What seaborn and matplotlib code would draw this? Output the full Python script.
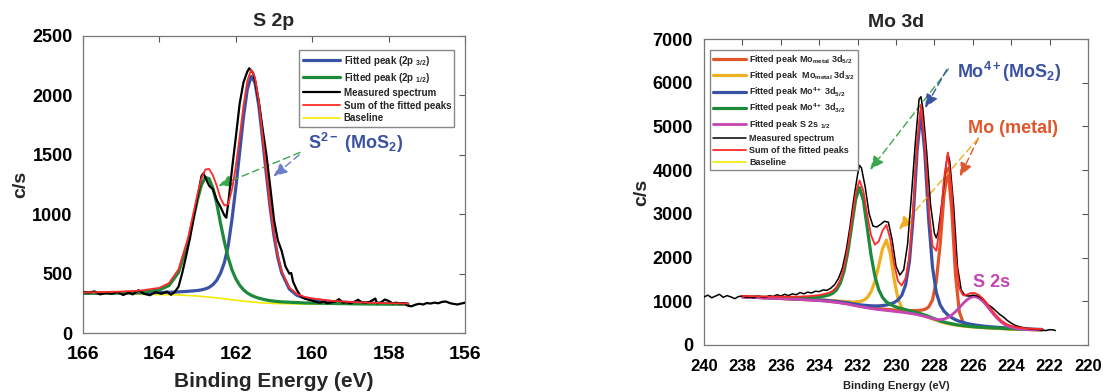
import numpy as np
import pandas as pd
import matplotlib
matplotlib.use("Agg")
import matplotlib.pyplot as plt
import seaborn as sns

# ---------------- S 2p ----------------
s2p_be = [166.0, 165.5, 165.0, 164.5, 164.0, 163.75, 163.5, 163.25, 163.0, 162.9,
          162.8, 162.7, 162.6, 162.5, 162.4, 162.3, 162.2, 162.1, 162.0, 161.9,
          161.8, 161.7, 161.6, 161.5, 161.4, 161.3, 161.2, 161.1, 161.0, 160.9,
          160.8, 160.6, 160.4, 160.2, 160.0, 159.5, 159.0, 158.5, 158.0, 157.5]
s2p_baseline = [330, 329, 328, 326, 324, 322, 320, 316, 311, 308,
                305, 302, 299, 296, 292, 288, 284, 280, 276, 272,
                268, 265, 262, 259, 256, 254, 252, 250, 249, 248,
                247, 246, 245, 244, 244, 243, 242, 241, 240, 240]
s2p_p32 = [5, 7, 9, 12, 17, 21, 26, 35, 47, 55,
           66, 82, 108, 148, 212, 305, 450, 680, 950, 1250,
           1550, 1785, 1898, 1850, 1660, 1380, 1080, 800, 565, 385,
           259, 124, 72, 51, 39, 22, 15, 11, 8, 6]
s2p_p12 = [6, 8, 12, 19, 39, 77, 190, 450, 817, 938,
           1005, 997, 920, 795, 630, 480, 350, 250, 180, 130,
           96, 72, 56, 45, 37, 31, 26, 22, 19, 17,
           15, 13, 11, 9, 8, 6, 4, 3, 3, 2]

s2p_meas_be = [166.0, 165.85, 165.7, 165.55, 165.4, 165.25, 165.1, 164.95, 164.8, 164.7,
               164.55, 164.4, 164.25, 164.1, 163.95, 163.8, 163.7, 163.6, 163.5, 163.4,
               163.3, 163.2, 163.1, 163.0, 162.9, 162.85, 162.8, 162.7, 162.6, 162.5,
               162.4, 162.3, 162.25, 162.2, 162.1, 162.0, 161.9, 161.8, 161.7, 161.65,
               161.55, 161.5, 161.4, 161.3, 161.2, 161.1, 161.0, 160.9, 160.8, 160.7,
               160.6, 160.55, 160.5, 160.4, 160.3, 160.2, 160.1, 160.0, 159.9, 159.8,
               159.7, 159.6, 159.5, 159.4, 159.3, 159.2, 159.1, 159.0, 158.9, 158.8,
               158.7, 158.6, 158.5, 158.4, 158.35, 158.3, 158.2, 158.1, 158.0, 157.9,
               157.8, 157.7, 157.6, 157.5, 157.4, 157.3, 157.2, 157.1, 157.0, 156.9,
               156.8, 156.7, 156.6, 156.5, 156.4, 156.3, 156.2, 156.1, 156.0]
s2p_meas = [345, 340, 350, 325, 338, 330, 345, 320, 340, 325,
            360, 330, 318, 345, 330, 348, 322, 345, 390, 510,
            650, 800, 980, 1150, 1320, 1344, 1310, 1240, 1210, 1120,
            1060, 990, 970, 1090, 1380, 1650, 1930, 2110, 2200, 2228,
            2190, 2130, 1950, 1720, 1500, 1230, 950, 780, 690, 560,
            500, 505, 430, 360, 310, 290, 280, 272, 262, 255,
            265, 250, 258, 265, 285, 255, 260, 250, 262, 280,
            258, 255, 262, 280, 290, 250, 258, 282, 270, 250,
            255, 248, 252, 230, 225, 238, 246, 240, 252, 248,
            256, 250, 262, 265, 252, 245, 240, 248, 255]

# ---------------- Mo 3d ----------------
mo_be = [238.0, 237.5, 237.0, 236.5, 236.0, 235.5, 235.0, 234.5, 234.1, 233.9,
         233.7, 233.5, 233.3, 233.1, 232.9, 232.7, 232.5, 232.3, 232.1, 231.9,
         231.7, 231.5, 231.3, 231.1, 230.9, 230.7, 230.5, 230.3, 230.1, 229.9,
         229.7, 229.5, 229.3, 229.1, 228.9, 228.7, 228.5, 228.3, 228.1, 227.9,
         227.7, 227.5, 227.3, 227.1, 226.9, 226.7, 226.5, 226.3, 226.1, 225.9,
         225.7, 225.5, 225.3, 225.1, 224.9, 224.7, 224.5, 224.3, 224.1, 223.7,
         223.3, 222.9, 222.4]
mo_baseline = [1100, 1090, 1080, 1070, 1060, 1050, 1040, 1028, 1018, 1012,
               1005, 995, 985, 975, 962, 948, 935, 915, 898, 880,
               865, 850, 836, 822, 810, 800, 790, 780, 770, 760,
               750, 740, 725, 712, 695, 675, 650, 622, 590, 560,
               530, 505, 485, 468, 452, 440, 430, 420, 413, 406,
               400, 395, 390, 386, 382, 378, 374, 370, 367, 361,
               356, 350, 345]
mo_metal_52 = [3, 3, 3, 3, 4, 4, 4, 5, 6, 6,
               6, 7, 7, 8, 8, 9, 9, 10, 11, 12,
               13, 14, 15, 17, 20, 22, 25, 28, 32, 37,
               43, 51, 62, 75, 94, 120, 164, 246, 441, 902,
               1775, 2920, 3550, 2646, 1141, 313, 78, 31, 23, 16,
               12, 10, 8, 7, 6, 5, 4, 4, 3, 3,
               2, 2, 2]
mo_metal_32 = [4, 5, 6, 7, 8, 10, 12, 15, 18, 20,
               23, 26, 30, 35, 40, 47, 57, 69, 86, 112,
               155, 233, 381, 633, 1003, 1409, 1610, 1312, 736, 301,
               101, 40, 23, 16, 13, 10, 8, 7, 6, 5,
               5, 4, 4, 4, 3, 3, 3, 3, 3, 2,
               2, 2, 2, 2, 2, 2, 2, 2, 2, 2,
               2, 2, 2]
mo4_52 = [5, 6, 6, 7, 8, 9, 11, 13, 14, 16,
          17, 18, 20, 22, 24, 26, 29, 32, 36, 41,
          46, 53, 61, 72, 85, 102, 125, 157, 201, 269,
          387, 636, 1189, 2253, 3753, 4645, 3753, 2253, 1189, 636,
          387, 269, 201, 157, 125, 102, 85, 72, 61, 53,
          46, 41, 36, 32, 29, 26, 24, 22, 20, 17,
          14, 13, 11]
mo4_32 = [11, 13, 15, 19, 24, 31, 41, 58, 80, 96,
          118, 148, 197, 286, 454, 750, 1216, 1832, 2442, 2720,
          2442, 1832, 1216, 750, 454, 286, 197, 148, 118, 96,
          80, 68, 58, 51, 44, 39, 35, 31, 28, 25,
          23, 21, 19, 18, 16, 15, 14, 13, 12, 11,
          10, 10, 9, 9, 8, 8, 8, 7, 7, 6,
          6, 5, 5]
s_2s = [0, 0, 0, 0, 0, 0, 0, 0, 0, 0,
        0, 0, 0, 0, 0, 0, 0, 0, 0, 0,
        0, 0, 0, 0, 0, 0, 0, 0, 0, 0,
        0, 0, 0, 0, 0, 1, 3, 7, 14, 27,
        51, 88, 143, 218, 311, 416, 523, 615, 678, 700,
        678, 615, 523, 416, 311, 218, 143, 88, 51, 14,
        3, 0, 0]

mo_meas_be = [240.0, 239.8, 239.6, 239.4, 239.2, 239.0, 238.8, 238.6, 238.4, 238.2,
              238.0, 237.8, 237.6, 237.4, 237.2, 237.0, 236.8, 236.6, 236.4, 236.2,
              236.0, 235.8, 235.6, 235.4, 235.2, 235.0, 234.8, 234.6, 234.4, 234.2,
              234.0, 233.8, 233.6, 233.4, 233.2, 233.0, 232.8, 232.6, 232.4, 232.2,
              232.0, 231.9, 231.8, 231.6, 231.4, 231.2, 231.0, 230.8, 230.6, 230.4,
              230.2, 230.0, 229.8, 229.6, 229.4, 229.2, 229.0, 228.8, 228.7, 228.6,
              228.4, 228.2, 228.0, 227.9, 227.8, 227.6, 227.4, 227.3, 227.2, 227.0,
              226.8, 226.6, 226.4, 226.2, 226.0, 225.8, 225.6, 225.4, 225.2, 225.0,
              224.8, 224.6, 224.4, 224.2, 224.0, 223.8, 223.6, 223.4, 223.2, 223.0,
              222.8, 222.6, 222.4, 222.2, 222.0, 221.8, 221.7]
mo_meas = [1100, 1140, 1080, 1120, 1160, 1090, 1130, 1100, 1060, 1110,
           1120, 1090, 1100, 1080, 1120, 1100, 1090, 1130, 1110, 1150,
           1120, 1160, 1130, 1170, 1150, 1200, 1170, 1210, 1190, 1230,
           1220, 1260, 1250, 1300, 1380, 1520, 1750, 2150, 2700, 3350,
           3900, 4110, 4050, 3600, 3000, 2720, 2700, 2760, 2830, 2810,
           2400, 1800, 1600, 1720, 2300, 3400, 4600, 5620, 5680, 5400,
           4400, 3200, 2550, 2450, 2600, 3300, 4100, 4380, 4200, 3200,
           1800, 1250, 1130, 1120, 1140, 1130, 1090, 1020, 920, 860,
           780, 700, 640, 560, 500, 450, 420, 400, 380, 370,
           360, 355, 340, 330, 350, 345, 330]

# ---------------- style ----------------
sns.set_theme(style="white")
plt.rcParams['font.family'] = ['Liberation Sans', 'DejaVu Sans']
plt.rcParams['font.weight'] = 'bold'
plt.rcParams['mathtext.fontset'] = 'custom'
plt.rcParams['mathtext.rm'] = 'Liberation Sans:bold'
plt.rcParams['mathtext.bf'] = 'Liberation Sans:bold'
plt.rcParams['mathtext.it'] = 'Liberation Sans:bold'
plt.rcParams['mathtext.default'] = 'rm'

BLUE = '#3a52a3'
GREEN = '#1c8a3a'
RED = '#ff2a2a'
YEL = '#f2ea00'
ORANGE = '#e0552a'
GOLD = '#efb020'
MAG = '#c545b2'


def style_axes(ax, xt_size, yt_size, xpad, ypad):
    ax.tick_params(direction='in', top=True, right=True, length=4, width=0.8,
                   colors='#555555', labelcolor='black')
    ax.tick_params(axis='x', pad=xpad)
    ax.tick_params(axis='y', pad=ypad)
    for lab in ax.get_xticklabels():
        lab.set_fontsize(xt_size)
        lab.set_fontweight('bold')
    for lab in ax.get_yticklabels():
        lab.set_fontsize(yt_size)
        lab.set_fontweight('bold')
    for sp in ax.spines.values():
        sp.set_color('#777777')
        sp.set_linewidth(0.9)


def dashed_arrow(ax, start, end, color):
    ax.annotate('', xy=end, xytext=start,
                arrowprops=dict(arrowstyle='-|>,head_length=0.7,head_width=0.3',
                                color=color, lw=1.0, ls=(0, (5, 3)),
                                shrinkA=0, shrinkB=0))


fig = plt.figure(figsize=(11.03, 3.92), dpi=100)
ax1 = fig.add_axes([0.0753, 0.1505, 0.3463, 0.7577])
ax2 = fig.add_axes([0.6383, 0.1199, 0.3481, 0.7806])

# ---- S 2p panel ----
be = np.array(s2p_be)
base = np.array(s2p_baseline)
p32 = np.array(s2p_p32)
p12 = np.array(s2p_p12)
sns.lineplot(x=be, y=base, ax=ax1, color=YEL, lw=1.2, zorder=2)
sns.lineplot(x=be, y=base + p32, ax=ax1, color=BLUE, lw=2.3, zorder=3,
             label='Fitted peak (2p $_{3/2}$)')
sns.lineplot(x=be, y=base + p12, ax=ax1, color=GREEN, lw=2.3, zorder=3,
             label='Fitted peak (2p $_{1/2}$)')
sns.lineplot(x=s2p_meas_be, y=s2p_meas, ax=ax1, color='black', lw=1.6, zorder=4,
             label='Measured spectrum')
sns.lineplot(x=be, y=base + p32 + p12, ax=ax1, color=RED, lw=1.3, zorder=5,
             label='Sum of the fitted peaks')
ax1.plot([], [], color=YEL, lw=1.2, label='Baseline')

ax1.set_xlim(166, 156)
ax1.set_ylim(0, 2500)
ax1.set_xticks([166, 164, 162, 160, 158, 156])
ax1.set_yticks([0, 500, 1000, 1500, 2000, 2500])
ax1.set_title('S 2p', fontsize=14, fontweight='bold', pad=7)
ax1.set_xlabel('Binding Energy (eV)', fontsize=15, fontweight='bold', labelpad=7)
ax1.set_ylabel('c/s', fontsize=14, fontweight='bold', labelpad=2)
style_axes(ax1, 14, 13, 9, 7.5)
leg1 = ax1.legend(loc='upper right', bbox_to_anchor=(0.985, 0.968), fontsize=7,
                  frameon=True, fancybox=False, framealpha=1, edgecolor='#888888',
                  handlelength=3.8, handletextpad=0.4, labelspacing=0.3,
                  borderpad=0.35)
leg1.get_frame().set_linewidth(1.0)
for t in leg1.get_texts():
    t.set_fontweight('bold')

ax1.text(160.12, 1600, 'S$^{2-}$ (MoS$_2$)', color=BLUE, fontsize=13,
         fontweight='bold', va='center', ha='left')
dashed_arrow(ax1, (160.32, 1520), (162.46, 1237), '#3aa84a')
dashed_arrow(ax1, (160.34, 1500), (161.02, 1316), '#6a7fc8')

# ---- Mo 3d panel ----
mbe = np.array(mo_be)
mbase = np.array(mo_baseline)
c52 = np.array(mo_metal_52)
c32 = np.array(mo_metal_32)
m52 = np.array(mo4_52)
m32 = np.array(mo4_32)
s2s = np.array(s_2s)
total = mbase + c52 + c32 + m52 + m32 + s2s

sns.lineplot(x=mbe, y=mbase, ax=ax2, color=YEL, lw=1.2, zorder=2)
sns.lineplot(x=mbe, y=mbase + c52, ax=ax2, color=ORANGE, lw=2.3, zorder=3,
             label='Fitted peak Mo$_{metal}$ 3d$_{5/2}$')
sns.lineplot(x=mbe, y=mbase + c32, ax=ax2, color=GOLD, lw=2.3, zorder=3,
             label='Fitted peak  Mo$_{metal}$ 3d$_{3/2}$')
sns.lineplot(x=mbe, y=mbase + m52, ax=ax2, color=BLUE, lw=2.3, zorder=3,
             label='Fitted peak Mo$^{4+}$ 3d$_{5/2}$')
sns.lineplot(x=mbe, y=mbase + m32, ax=ax2, color=GREEN, lw=2.3, zorder=3,
             label='Fitted peak Mo$^{4+}$ 3d$_{3/2}$')
sns.lineplot(x=mbe, y=mbase + s2s, ax=ax2, color=MAG, lw=2.0, zorder=3,
             label='Fitted peak S 2s $_{1/2}$')
sns.lineplot(x=mo_meas_be, y=mo_meas, ax=ax2, color='black', lw=1.1, zorder=4,
             label='Measured spectrum')
sns.lineplot(x=mbe, y=total, ax=ax2, color=RED, lw=1.3, zorder=5,
             label='Sum of the fitted peaks')
ax2.plot([], [], color=YEL, lw=1.2, label='Baseline')

ax2.set_xlim(240, 220)
ax2.set_ylim(0, 7000)
ax2.set_xticks(list(range(240, 219, -2)))
ax2.set_yticks(list(range(0, 7001, 1000)))
ax2.set_title('Mo 3d', fontsize=14, fontweight='bold', pad=9)
ax2.set_xlabel('Binding Energy (eV)', fontsize=8, fontweight='bold', labelpad=5)
ax2.set_ylabel('c/s', fontsize=14, fontweight='bold', labelpad=2)
style_axes(ax2, 12, 13, 10, 8)
leg2 = ax2.legend(loc='upper left', bbox_to_anchor=(0.004, 0.978), fontsize=6.5,
                  frameon=True, fancybox=False, framealpha=1, edgecolor='#888888',
                  handlelength=3.6, handletextpad=0.4, labelspacing=0.32,
                  borderpad=0.35)
leg2.get_frame().set_linewidth(1.0)
for t in leg2.get_texts():
    t.set_fontweight('bold')

ax2.text(226.82, 6250, 'Mo$^{4+}$(MoS$_2$)', color=BLUE, fontsize=13,
         fontweight='bold', va='center', ha='left')
ax2.text(226.25, 4950, 'Mo (metal)', color=ORANGE, fontsize=13,
         fontweight='bold', va='center', ha='left')
ax2.text(225.99, 1420, 'S 2s', color=MAG, fontsize=13,
         fontweight='bold', va='center', ha='left')
dashed_arrow(ax2, (227.27, 6313), (231.35, 4007), '#3aa84a')
dashed_arrow(ax2, (227.36, 6297), (228.49, 5420), BLUE)
dashed_arrow(ax2, (225.71, 4733), (226.67, 3854), ORANGE)
dashed_arrow(ax2, (225.71, 4733), (229.85, 2633), GOLD)

fig.savefig('out.png', dpi=100)
